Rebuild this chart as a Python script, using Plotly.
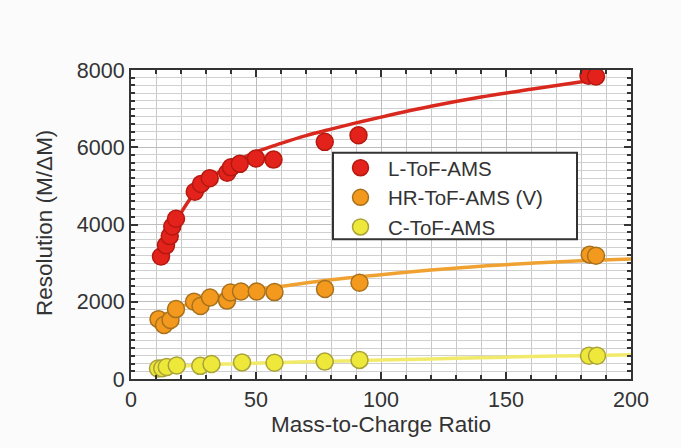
import plotly.graph_objects as go

# ---- data ----
l_mz = [12.0, 14.0, 15.5, 16.5, 18.0, 25.5, 28.0, 31.5, 38.5, 40.0, 43.5, 50.0, 57.0, 77.5, 91.0, 183.0, 186.0]
l_res = [3170, 3460, 3700, 3950, 4150, 4850, 5050, 5200, 5340, 5480, 5570, 5710, 5680, 6140, 6310, 7850, 7830]

hr_mz = [11.0, 13.2, 15.8, 18.0, 25.2, 27.8, 31.6, 38.4, 39.8, 44.0, 50.3, 57.4, 77.6, 91.4, 183.5, 186.0]
hr_res = [1550, 1400, 1530, 1810, 2000, 1890, 2110, 2030, 2240, 2265, 2265, 2250, 2330, 2490, 3220, 3190]

c_mz = [10.8, 12.5, 14.3, 18.3, 27.7, 32.2, 44.4, 57.4, 77.5, 91.4, 183.2, 186.4]
c_res = [270, 280, 310, 350, 340, 390, 430, 420, 450, 495, 600, 600]

# fitted curves
l_fit_mz = [11.5, 14, 17, 20, 25, 30, 35, 40, 45, 50, 60, 70, 80, 90, 100, 120, 140, 160, 183]
l_fit_res = [3000, 3500, 3950, 4300, 4780, 5100, 5350, 5550, 5730, 5880, 6100, 6300, 6470, 6630, 6780, 7060, 7300, 7500, 7720]

hr_fit_mz = [10, 15, 20, 30, 40, 50, 60, 80, 100, 120, 140, 160, 180, 200]
hr_fit_res = [1500, 1700, 1870, 2080, 2220, 2320, 2400, 2570, 2700, 2820, 2920, 3000, 3060, 3110]

c_fit_mz = [10, 20, 40, 60, 80, 100, 120, 140, 160, 180, 200]
c_fit_res = [270, 330, 390, 430, 460, 490, 520, 550, 580, 605, 630]

series_names = ["L-ToF-AMS", "HR-ToF-AMS (V)", "C-ToF-AMS"]
x_ticks = [0, 50, 100, 150, 200]
y_ticks = [0, 2000, 4000, 6000, 8000]
x_title = "Mass-to-Charge Ratio"
y_title = "Resolution (M/ΔM)"

# ---- styles ----
fills = ["#E3231B", "#F39A1E", "#EEE83A"]
edges = ["#B5180F", "#A8701C", "#A9A23A"]
line_cols = ["#D9291E", "#EFA232", "#F2EA6A"]
FONT = "Liberation Sans, Arial, sans-serif"
TXT = "#333333"

fig = go.Figure()

fits = [(l_fit_mz, l_fit_res), (hr_fit_mz, hr_fit_res), (c_fit_mz, c_fit_res)]
for (fx, fy), col in zip(fits, line_cols):
    fig.add_trace(go.Scatter(x=fx, y=fy, mode="lines", line=dict(color=col, width=3.5, shape="spline"),
                             showlegend=False, hoverinfo="skip"))

pts = [(l_mz, l_res), (hr_mz, hr_res), (c_mz, c_res)]
for (px, py), name, fc, ec in zip(pts, series_names, fills, edges):
    fig.add_trace(go.Scatter(x=px, y=py, mode="markers", name=name,
                             marker=dict(size=17, color=fc, line=dict(color=ec, width=1.5))))

axis_common = dict(
    showline=True, linecolor=TXT, linewidth=2, mirror="ticks",
    ticks="inside", tickcolor=TXT, ticklen=7, tickwidth=1.5,
    showgrid=True, gridcolor="#BDBDBD", gridwidth=1, zeroline=False,
    tickfont=dict(family=FONT, size=21.5, color=TXT),
)

fig.update_xaxes(range=[0, 200], tickvals=x_ticks,
                 minor=dict(ticks="inside", dtick=10, ticklen=4, tickcolor=TXT, showgrid=True, gridcolor="#C8C8C8"),
                 **axis_common)
fig.update_yaxes(range=[0, 8000], tickvals=y_ticks,
                 minor=dict(ticks="inside", dtick=200, ticklen=4, tickcolor=TXT, showgrid=True, gridcolor="#D0D0D0"),
                 **axis_common)

# axis titles as annotations for exact placement
fig.add_annotation(text=x_title, xref="paper", yref="paper", x=0.5, y=-0.148,
                   xanchor="center", yanchor="middle", showarrow=False,
                   font=dict(family=FONT, size=22.5, color=TXT))
fig.add_annotation(text=y_title, xref="paper", yref="paper", x=-0.172, y=0.505,
                   xanchor="center", yanchor="middle", showarrow=False, textangle=-90,
                   font=dict(family=FONT, size=22.5, color=TXT))

# legend frame
fig.add_shape(type="rect", xref="paper", yref="paper", x0=0.404, x1=0.892, y0=0.452, y1=0.732,
              fillcolor="#FFFFFF", line=dict(color=TXT, width=2), layer="above")

fig.update_layout(
    width=681, height=448,
    margin=dict(l=131, r=50, t=70, b=69),
    paper_bgcolor="#FBFBFB", plot_bgcolor="#FFFFFF",
    font=dict(family=FONT, size=20, color=TXT),
    legend=dict(x=0.404, y=0.748, xanchor="left", yanchor="top",
                bgcolor="rgba(0,0,0,0)", borderwidth=0,
                font=dict(family=FONT, size=20.5, color=TXT),
                itemwidth=45, tracegroupgap=0),
)

fig.write_html("out.html")
